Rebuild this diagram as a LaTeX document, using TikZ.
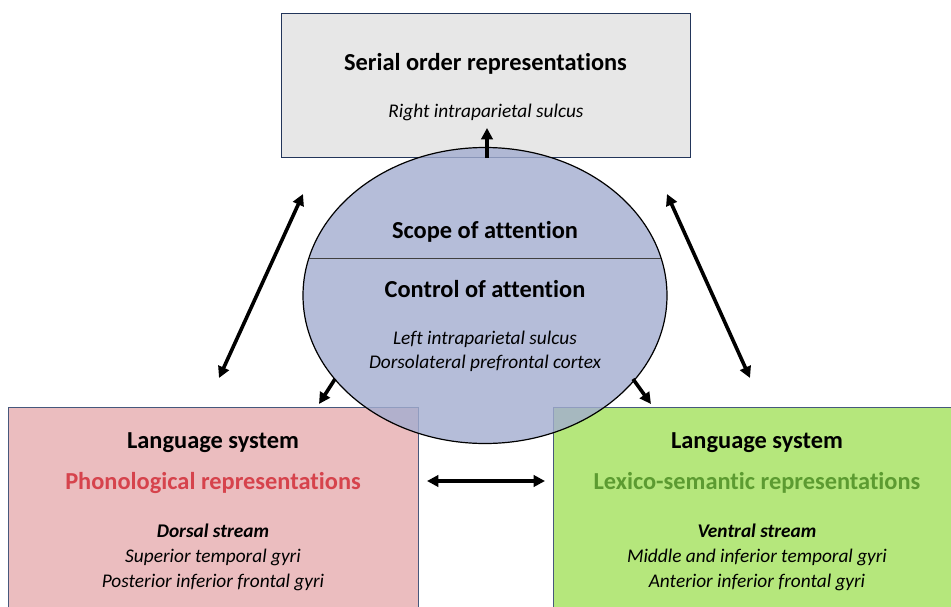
\documentclass[tikz,border=0pt]{standalone}
\usepackage{fontspec}
\setmainfont{Carlito}[Ligatures=NoCommon]
\usetikzlibrary{arrows.meta,shapes.geometric}

\definecolor{topfill}{HTML}{E7E7E7}
\definecolor{topline}{HTML}{22355A}
\definecolor{phonfill}{HTML}{EBBDBF}
\definecolor{lexfill}{HTML}{B5E77C}
\definecolor{boxline}{HTML}{46587C}
\definecolor{attnfill}{RGB}{163,173,208}
\definecolor{phonred}{HTML}{D6434C}
\definecolor{lexgreen}{HTML}{5C9B31}

\tikzset{
  region/.style={draw=boxline, line width=1.1pt, anchor=north west, inner sep=0pt},
  heading/.style={font=\fontsize{18.3}{20}\selectfont\bfseries, anchor=base, inner sep=0pt},
  area/.style={font=\fontsize{14.5}{16}\selectfont\itshape, anchor=base, inner sep=0pt},
  streamname/.style={font=\fontsize{14.5}{16}\selectfont\bfseries\itshape, anchor=base, inner sep=0pt},
  tip/.tip={Triangle[length=8.5pt,width=8.5pt]},
  link/.style={line width=2.7pt, -tip},
  twoway/.style={line width=2.7pt, tip-tip}
}

\begin{document}
\begin{tikzpicture}[x=0.75pt,y=-0.75pt]
\useasboundingbox (0,0) rectangle (951,607);
\clip (0,0) rectangle (951,607);

% boxes
\node[region, draw=topline, fill=topfill, minimum width=306.75pt, minimum height=108pt] (serial) at (281,13) {};
\node[region, fill=phonfill, minimum width=307.5pt, minimum height=160pt] (phon) at (8,407) {};
\node[region, fill=lexfill, minimum width=320pt, minimum height=160pt] (lex) at (553,407) {};

% attention ellipse (translucent, over the boxes)
\node[ellipse, draw=black, line width=0.9pt, fill=attnfill, fill opacity=0.8,
      minimum width=273pt, minimum height=222pt, inner sep=0pt] (attn) at (485,295.5) {};
\draw[draw=black!75, line width=0.7pt] (309,258) -- (661,258);

% texts: serial order box
\node[heading] (serialhead) at (485.5,70) {Serial order representations};
\node[area] (serialarea) at (486,117) {Right intraparietal sulcus};

% texts: attention
\node[heading] (scope) at (485,238) {Scope of attention};
\node[heading] (control) at (485,297) {Control of attention};
\node[area] (lips) at (485,344) {Left intraparietal sulcus};
\node[area] (dlpfc) at (485,368) {Dorsolateral prefrontal cortex};

% texts: phonological box
\node[heading] (phonsys) at (213,448) {Language system};
\node[heading, text=phonred] (phonrep) at (213,489) {Phonological representations};
\node[streamname] (dorsal) at (213,537) {Dorsal stream};
\node[area] (stg) at (213,562) {Superior temporal gyri};
\node[area] (pifg) at (213,587) {Posterior inferior frontal gyri};

% texts: lexico-semantic box
\node[heading] (lexsys) at (757,448) {Language system};
\node[heading, text=lexgreen] (lexrep) at (757,489) {Lexico-semantic representations};
\node[streamname] (ventral) at (757,537) {Ventral stream};
\node[area] (mitg) at (757,562) {Middle and inferior temporal gyri};
\node[area] (aifg) at (757,587) {Anterior inferior frontal gyri};

% connector end points
\coordinate (upfrom) at (487,158);
\coordinate (upto) at (487,128);
\coordinate (lt) at (303,194);
\coordinate (lb) at (219,378);
\coordinate (rt) at (667,194);
\coordinate (rb) at (750,378);
\coordinate (dlfrom) at (335,379);
\coordinate (dlto) at (319,404);
\coordinate (drfrom) at (633,379);
\coordinate (drto) at (651,404);
\coordinate (hl) at (427,481);
\coordinate (hr) at (545,481);

% connectors
\draw[link] (upfrom) -- (upto);
\draw[twoway] (lt) -- (lb);
\draw[twoway] (rt) -- (rb);
\draw[link] (dlfrom) -- (dlto);
\draw[link] (drfrom) -- (drto);
\draw[twoway] (hl) -- (hr);
\end{tikzpicture}
\end{document}
